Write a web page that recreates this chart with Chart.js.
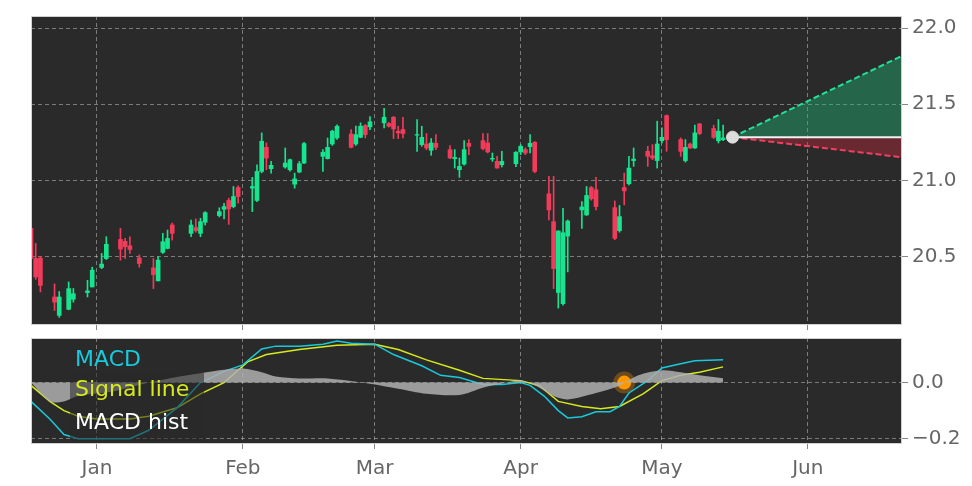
<!DOCTYPE html>
<html>
<head>
<meta charset="utf-8">
<script src="https://cdn.jsdelivr.net/npm/chart.js@4/dist/chart.umd.min.js"></script>
<style>
  body { margin: 0; background: #fff; }
  #wrap { position: relative; width: 972px; height: 486px; overflow: hidden; }
  #top { position: absolute; left: 0; top: 0; }
  #bot { position: absolute; left: 0; top: 322px; }
</style>
</head>
<body>
<div id="wrap">
  <canvas id="top" width="972" height="341"></canvas>
  <canvas id="bot" width="972" height="167"></canvas>
</div>
<script>
// day numbers: 0 = Jan 1
const candleDays = [-14,-13,-12,-9,-8,-6,-5,-2,-1,1,2,5,6,7,9,12,13,14,15,16,20,21,22,23,26,27,28,29,30,33,34,35,36,37,40,41,42,43,44,48,49,50,51,54,55,56,57,58,
  61,62,63,64,65,68,69,70,71,72,75,76,77,78,79,82,83,84,85,86,89,90,91,92,93,96,97,98,99,100,103,104,105,106,110,111,112,113,114,117,118,119,120,121,124,125,126,127,128,131,132,133];
const opens  = [20.685,20.487,20.49,20.234,20.113,20.153,20.219,20.263,20.30,20.428,20.487,20.612,20.60,20.57,20.491,20.425,20.34,20.527,20.553,20.707,20.652,20.69,20.652,20.725,20.769,20.81,20.868,20.828,20.953,20.949,20.868,21.059,21.217,21.077,21.088,21.07,20.975,21.055,21.114,21.158,21.143,21.239,21.279,21.305,21.239,21.283,21.36,21.352,
  21.378,21.374,21.415,21.323,21.334,21.297,21.235,21.239,21.198,21.244,21.202,21.143,21.07,21.107,21.244,21.261,21.246,21.14,21.125,21.103,21.11,21.187,21.202,21.222,21.25,20.912,20.729,20.263,20.19,20.634,20.806,20.773,20.953,20.938,20.821,20.67,20.953,20.978,21.13,21.191,21.162,21.13,21.261,21.426,21.268,21.13,21.239,21.213,21.371,21.341,21.261,21.268];
const highs  = [20.93,20.586,20.50,20.32,20.27,20.333,20.29,20.344,20.43,20.52,20.63,20.685,20.62,20.63,20.51,20.487,20.50,20.652,20.674,20.72,20.74,20.747,20.751,20.795,20.82,20.85,20.883,20.96,20.964,21.02,21.103,21.312,21.246,21.125,21.213,21.14,21.048,21.125,21.25,21.202,21.279,21.33,21.365,21.334,21.356,21.378,21.367,21.42,
  21.473,21.38,21.42,21.356,21.415,21.40,21.356,21.308,21.275,21.301,21.228,21.202,21.147,21.261,21.268,21.308,21.308,21.18,21.158,21.191,21.19,21.235,21.213,21.301,21.255,21.026,21.026,20.67,20.817,20.74,20.861,20.96,20.96,21.02,20.865,20.835,21.048,21.158,21.213,21.224,21.235,21.389,21.345,21.43,21.279,21.268,21.245,21.363,21.375,21.363,21.40,21.363];
const lows   = [20.48,20.35,20.267,20.146,20.10,20.15,20.20,20.234,20.30,20.42,20.48,20.476,20.487,20.52,20.43,20.289,20.34,20.52,20.55,20.608,20.63,20.66,20.63,20.707,20.76,20.747,20.711,20.82,20.85,20.795,20.86,21.05,21.07,21.048,21.08,21.06,20.949,21.05,21.11,21.059,21.14,21.23,21.27,21.213,21.23,21.28,21.279,21.334,
  21.345,21.35,21.275,21.275,21.279,21.191,21.224,21.202,21.165,21.202,21.143,21.081,21.02,21.10,21.169,21.20,21.18,21.125,21.08,21.088,21.09,21.169,21.169,21.18,21.05,20.74,20.289,20.161,20.18,20.399,20.685,20.77,20.87,20.806,20.61,20.66,20.839,20.97,21.092,21.092,21.136,21.081,21.246,21.191,21.158,21.12,21.21,21.21,21.30,21.275,21.246,21.261];
const closes = [20.487,20.366,20.31,20.20,20.234,20.289,20.256,20.274,20.41,20.45,20.58,20.549,20.564,20.546,20.454,20.381,20.476,20.597,20.619,20.652,20.707,20.67,20.729,20.788,20.795,20.828,20.813,20.894,20.894,20.96,21.059,21.257,21.147,21.099,21.114,21.136,21.01,21.11,21.242,21.185,21.217,21.323,21.356,21.217,21.301,21.356,21.301,21.385,
  21.415,21.356,21.338,21.312,21.308,21.301,21.283,21.213,21.246,21.217,21.147,21.151,21.092,21.202,21.224,21.209,21.187,21.145,21.081,21.125,21.185,21.224,21.18,21.244,21.059,20.806,20.421,20.667,20.656,20.733,20.826,20.901,20.879,20.828,20.619,20.762,20.931,21.081,21.14,21.158,21.147,21.239,21.283,21.268,21.191,21.217,21.213,21.312,21.308,21.283,21.323,21.279];

// forecast cone
const fcDays = [135, 171];
const fcBase = [21.284, 21.284];
const fcUpper = [21.284, 21.818];
const fcLower = [21.284, 21.152];

// MACD panel
const macdDays = [-14,-10,-7,-4,0,7,11,17,22,24,27,31,35,38,43,48,51,54,59,63,69,73,77,82,86,90,92,95,98,100,103,106,109,111,113,117,120,124,127,133];
const macdVals = [-0.067,-0.13,-0.185,-0.2,-0.2,-0.2,-0.17,-0.09,0,0.015,0.04,0.063,0.12,0.13,0.13,0.137,0.148,0.14,0.137,0.1,0.06,0.026,0.018,-0.007,-0.007,0,-0.01,-0.048,-0.1,-0.126,-0.122,-0.104,-0.104,-0.085,-0.037,0.007,0.052,0.067,0.078,0.081];
const signalDays = [-14,-10,-7,-4,0,7,11,17,22,27,32,36,43,51,59,64,70,77,82,90,94,98,103,107,111,116,120,124,128,133];
const signalVals = [-0.01,-0.067,-0.1,-0.12,-0.13,-0.13,-0.12,-0.09,-0.04,0,0.074,0.1,0.118,0.133,0.137,0.118,0.081,0.044,0.015,0.007,-0.011,-0.067,-0.085,-0.093,-0.085,-0.04,0.007,0.026,0.037,0.056];
const histDays = [-14,-10,-7,-4,4,11,17,22,26,31,35,38,43,49,58,64,70,77,82,86,90,94,97,100,106,111,115,120,124,128,133];
const histVals = [0,-0.067,-0.067,-0.048,-0.03,0,0.02,0.033,0.044,0.05,0.037,0.022,0.015,0.015,-0.004,-0.022,-0.04,-0.044,-0.018,-0.004,0.007,-0.018,-0.048,-0.06,-0.037,-0.011,0.026,0.044,0.037,0.026,0.015];
const signalDot = [112, 0];

const monthTicks = [0, 31, 59, 90, 120, 151];
const monthNames = ['Jan', 'Feb', 'Mar', 'Apr', 'May', 'Jun'];

const GREEN = '#16e48e';
const RED = '#f03c5a';
const FONT = 'DejaVu Sans';
const TICK_COLOR = '#666666';
const GRID = 'rgba(190,190,190,0.55)';

const panelBg = {
  id: 'panelBg',
  beforeDraw(chart) {
    const a = chart.chartArea, ctx = chart.ctx;
    ctx.save();
    ctx.fillStyle = '#2a2a2a';
    ctx.fillRect(a.left, a.top, a.right - a.left, a.bottom - a.top);
    ctx.restore();
  },
  afterDraw(chart) {
    const a = chart.chartArea, ctx = chart.ctx;
    ctx.save();
    ctx.strokeStyle = '#d0d0d0';
    ctx.lineWidth = 1;
    ctx.strokeRect(a.left + 0.5, a.top + 0.5, a.right - a.left - 1, a.bottom - a.top - 1);
    ctx.restore();
  }
};

function xScale(showLabels, h) {
  return {
    type: 'linear', min: -14, max: 171, offset: false,
    afterBuildTicks: s => { s.ticks = monthTicks.map(v => ({ value: v })); },
    afterFit: s => { s.height = h; },
    grid: { color: GRID, tickColor: '#888', tickLength: 5, offset: false },
    border: { display: false, dash: [4, 3] },
    ticks: {
      display: showLabels, color: TICK_COLOR, padding: 8,
      font: { family: FONT, size: 20 },
      callback: v => monthNames[monthTicks.indexOf(v)]
    }
  };
}

function yScale(min, max, ticks, fmt) {
  return {
    position: 'right', min: min, max: max,
    afterBuildTicks: s => { s.ticks = ticks.map(v => ({ value: v })); },
    afterFit: s => { s.width = 70; },
    grid: { color: GRID, tickColor: '#888', tickLength: 6 },
    border: { display: false, dash: [4, 3] },
    ticks: { color: TICK_COLOR, padding: 4, font: { family: FONT, size: 20 }, callback: fmt }
  };
}

// candlesticks as floating bars
const wickData = candleDays.map((d, i) => ({ x: d, y: [lows[i], highs[i]] }));
const bodyData = candleDays.map((d, i) => ({ x: d, y: [opens[i], closes[i] === opens[i] ? closes[i] + 0.004 : closes[i]] }));
const candleColors = candleDays.map((d, i) => closes[i] >= opens[i] ? GREEN : RED);

new Chart(document.getElementById('top'), {
  data: {
    datasets: [
      { type: 'line', data: fcDays.map((d, i) => ({ x: d, y: fcBase[i] })), borderColor: '#f2f2f2', borderWidth: 2, pointRadius: 0, order: 3 },
      { type: 'line', data: fcDays.map((d, i) => ({ x: d, y: fcUpper[i] })), borderColor: '#22e09a', borderWidth: 2, borderDash: [6, 3], pointRadius: 0,
        fill: { target: 0 }, backgroundColor: 'rgba(30,190,120,0.4)', order: 4 },
      { type: 'line', data: fcDays.map((d, i) => ({ x: d, y: fcLower[i] })), borderColor: '#f04060', borderWidth: 2, borderDash: [6, 3], pointRadius: 0,
        fill: { target: 0 }, backgroundColor: 'rgba(200,40,60,0.4)', order: 4 },
      { type: 'bar', data: wickData, backgroundColor: candleColors, barThickness: 1, grouped: false, order: 2 },
      { type: 'bar', data: bodyData, backgroundColor: candleColors, barThickness: 4, grouped: false, order: 1 },
      { type: 'scatter', data: [{ x: fcDays[0], y: fcBase[0] }], backgroundColor: '#dddddd', borderColor: '#dddddd', pointRadius: 6, order: 0 }
    ]
  },
  options: {
    responsive: false, animation: false,
    layout: { padding: { left: 31, top: 15, right: 0, bottom: 0 } },
    plugins: { legend: { display: false }, tooltip: { enabled: false } },
    scales: {
      x: xScale(false, 7),
      y: yScale(20.05, 22.08, [20.5, 21.0, 21.5, 22.0], v => v.toFixed(1))
    }
  },
  plugins: [panelBg]
});

const macdLegend = {
  id: 'macdLegend',
  afterDatasetsDraw(chart) {
    const ctx = chart.ctx;
    ctx.save();
    ctx.fillStyle = 'rgba(40,40,40,0.55)';
    ctx.fillRect(70, 51, 134, 68);
    ctx.font = '22px "DejaVu Sans"';
    ctx.textBaseline = 'middle';
    ctx.fillStyle = '#19c9dc'; ctx.fillText('MACD', 75, 38);
    ctx.fillStyle = '#d6ea1c'; ctx.fillText('Signal line', 75, 68);
    ctx.fillStyle = '#ffffff'; ctx.fillText('MACD hist', 75, 101);
    ctx.restore();
  }
};

new Chart(document.getElementById('bot'), {
  data: {
    datasets: [
      { type: 'line', data: histDays.map((d, i) => ({ x: d, y: histVals[i] })), borderWidth: 0, pointRadius: 0,
        fill: 'origin', backgroundColor: 'rgba(175,175,175,0.85)', tension: 0.3 },
      { type: 'line', data: macdDays.map((d, i) => ({ x: d, y: macdVals[i] })), borderColor: '#19c9dc', borderWidth: 1.5, pointRadius: 0 },
      { type: 'line', data: signalDays.map((d, i) => ({ x: d, y: signalVals[i] })), borderColor: '#d6ea1c', borderWidth: 1.5, pointRadius: 0 },
      { type: 'scatter', data: [{ x: signalDot[0], y: signalDot[1] }], backgroundColor: '#ff9900', borderColor: 'rgba(255,153,0,0.3)',
        borderWidth: 8, pointRadius: 7 }
    ]
  },
  options: {
    responsive: false, animation: false,
    layout: { padding: { left: 31, top: 1, right: 0, bottom: 0 } },
    plugins: { legend: { display: false }, tooltip: { enabled: false } },
    scales: {
      x: xScale(true, 45),
      y: yScale(-0.219, 0.159, [-0.2, 0.0], v => (v < 0 ? '\u2212' : '') + Math.abs(v).toFixed(1))
    }
  },
  plugins: [panelBg, macdLegend]
});
</script>
</body>
</html>
